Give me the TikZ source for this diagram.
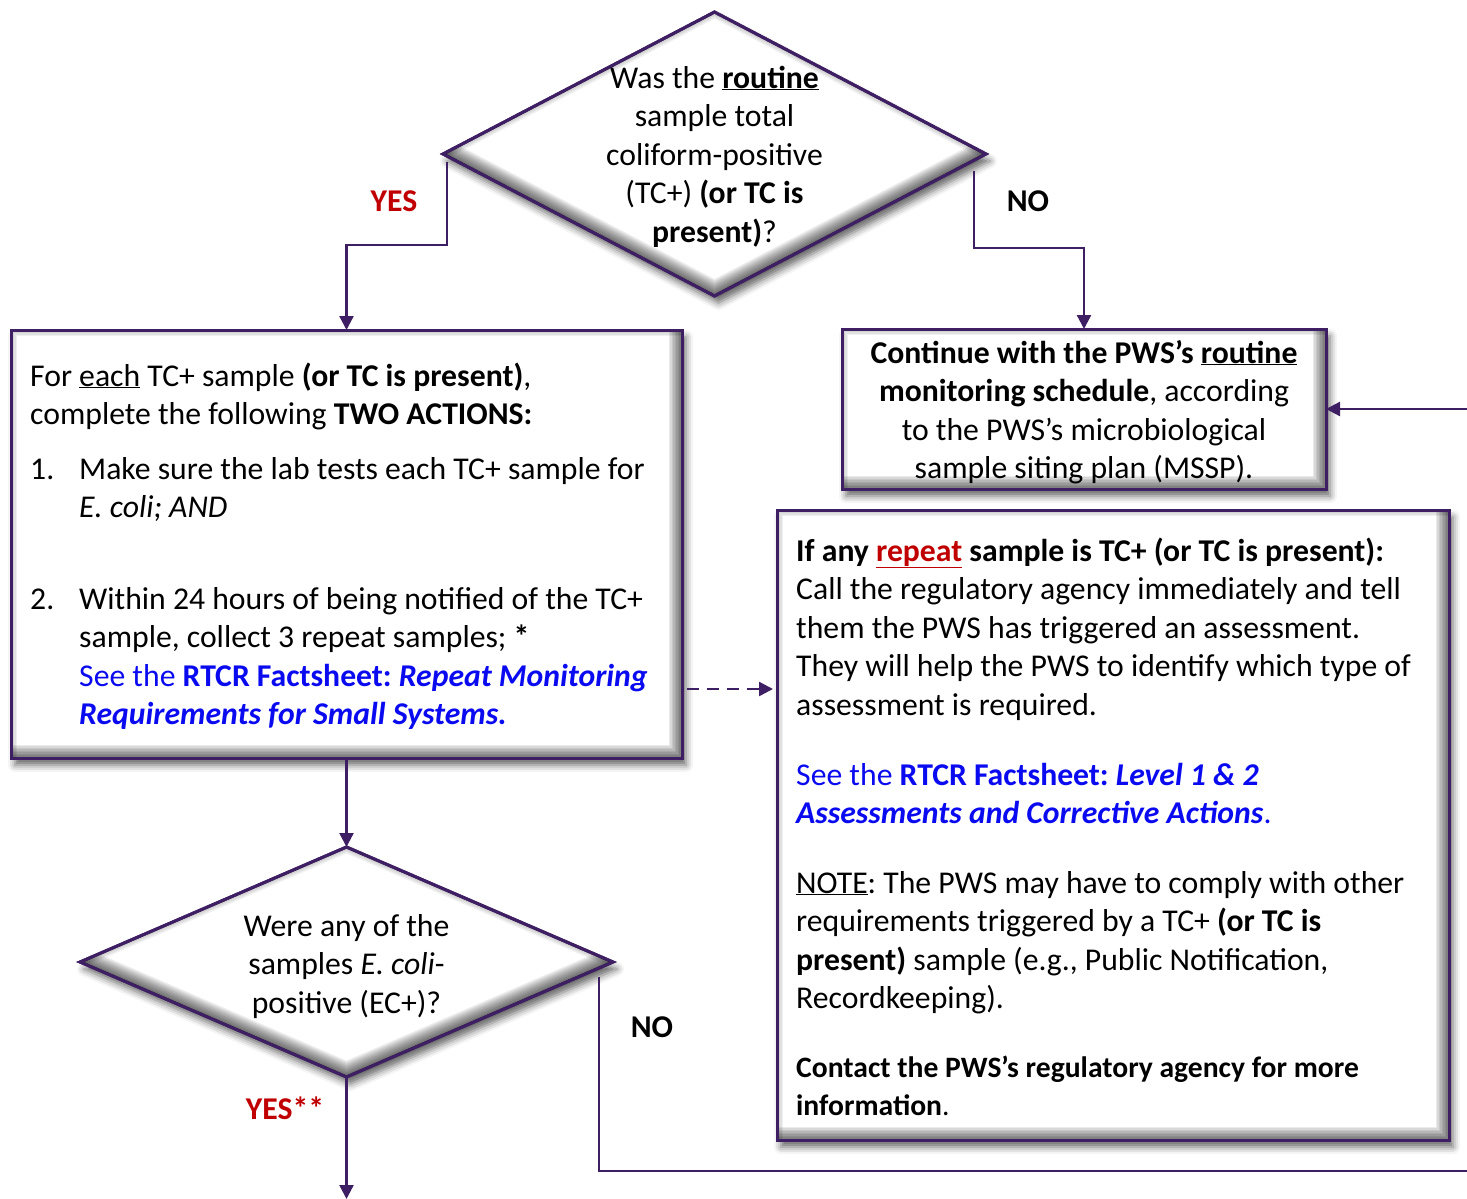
\documentclass[tikz,border=0pt]{standalone}
\usepackage{fontspec}
\setmainfont{Carlito}
\usepackage{xcolor}
\usetikzlibrary{calc,arrows.meta,shapes.geometric,shadows.blur}
\definecolor{flowpurple}{HTML}{3F1F63}
\definecolor{yesred}{HTML}{C00000}
\definecolor{linkblue}{HTML}{0A0AF0}
\frenchspacing
\tikzset{
  boxshape/.style={draw=flowpurple, line width=3pt, fill=white, rectangle,
    inner sep=0pt, outer sep=0pt,
    blur shadow={shadow xshift=4pt, shadow yshift=-7pt, shadow blur radius=7pt, shadow opacity=60}},
  decision/.style={boxshape, diamond},
  flow/.style={draw=flowpurple, line width=2.4pt, -{Triangle[length=14pt,width=14pt]}},
  link/.style={draw=flowpurple, line width=2.4pt},
  words/.style={inner sep=0pt, font=\fontsize{31.7}{38.5}\selectfont},
  smallwords/.style={inner sep=0pt, font=\fontsize{29.6}{38.3}\selectfont},
  answer/.style={inner sep=0pt, font=\fontsize{31.7}{38.5}\selectfont\bfseries}
}
% grey inner edge of the boxes
\newcommand{\bevelbox}[1]{%
  \begin{scope}
    \clip (#1.south west) rectangle (#1.north east);
    \foreach \w in {3,6,...,27}
      \draw[black, opacity=0.08, line width=\w pt] (#1.south west) -- (#1.south east) -- (#1.north east);
    \foreach \w in {3,6,...,12}
      \draw[black, opacity=0.06, line width=\w pt] (#1.south west) -- (#1.north west) -- (#1.north east);
  \end{scope}
  \draw[flowpurple, line width=3pt] (#1.south west) rectangle (#1.north east);
}
\newcommand{\beveldiamond}[1]{%
  \begin{scope}
    \clip (#1.north) -- (#1.east) -- (#1.south) -- (#1.west) -- cycle;
    \foreach \w in {3,6,...,30}
      \draw[black, opacity=0.08, line width=\w pt] (#1.west) -- (#1.south) -- (#1.east);
    \foreach \w in {3,6,...,12}
      \draw[black, opacity=0.06, line width=\w pt] (#1.west) -- (#1.north) -- (#1.east);
  \end{scope}
  \draw[flowpurple, line width=3pt] (#1.north) -- (#1.east) -- (#1.south) -- (#1.west) -- cycle;
}

\begin{document}
\begin{tikzpicture}[x=1pt, y=-1pt]
  \useasboundingbox (0,0) rectangle (1467,1199);

  % shapes
  \node[decision, minimum width=543pt, minimum height=284pt] (q1) at (714.5,154) {};
  \node[boxshape, minimum width=671pt, minimum height=428pt] (act) at (346.5,544) {};
  \node[boxshape, minimum width=484pt, minimum height=160pt] (cont) at (1084,409) {};
  \node[boxshape, minimum width=672pt, minimum height=630pt] (rep) at (1113,825) {};
  \node[decision, minimum width=533pt, minimum height=230pt] (q2) at (346.5,962) {};
  \beveldiamond{q1}
  \bevelbox{act}
  \bevelbox{cont}
  \bevelbox{rep}
  \beveldiamond{q2}

  % texts (base = last line)
  \node[words, anchor=base, align=center] (q1txt) at (714.5,242)
    {Was the \underline{\textbf{routine}}\\sample total\\coliform-positive\\(TC+) \textbf{(or TC is}\\\textbf{present)}?};

  \node[words, anchor=base west, align=left] (actintro) at (30,424.5)
    {For \underline{each} TC+ sample \textbf{(or TC is present)},\\complete the following \textbf{TWO ACTIONS:}};
  \node[words, anchor=base west] (num1) at (30,479) {1.};
  \node[words, anchor=base west, align=left] (step1) at (79,517.5)
    {Make sure the lab tests each TC+ sample for\\\textit{E. coli; AND}};
  \node[words, anchor=base west] (num2) at (30,609) {2.};
  \node[words, anchor=base west, align=left] (step2) at (79,724.5)
    {Within 24 hours of being notified of the TC+\\sample, collect 3 repeat samples; \textbf{*}\\
     \textcolor{linkblue}{See the \textbf{RTCR Factsheet: \textit{Repeat Monitoring}}}\\
     \textcolor{linkblue}{\textbf{\textit{Requirements for Small Systems.}}}};

  \node[words, anchor=base, align=center] (conttxt) at (1084,478.5)
    {\textbf{Continue with the PWS’s \underline{routine}}\\\textbf{monitoring schedule}, according\\to the PWS’s microbiological\\sample siting plan (MSSP).};

  \node[words, anchor=base west, align=left] (rep1) at (796,715)
    {\textbf{If any \textcolor{yesred}{\underline{repeat}} sample is TC+ (or TC is present):}\\
     Call the regulatory agency immediately and tell\\
     them the PWS has triggered an assessment.\\
     They will help the PWS to identify which type of\\
     assessment is required.};
  \node[words, anchor=base west, align=left] (rep2) at (796,823.5)
    {\textcolor{linkblue}{See the \textbf{RTCR Factsheet: \textit{Level 1 \& 2}}}\\
     \textcolor{linkblue}{\textbf{\textit{Assessments and Corrective Actions}}.}};
  \node[words, anchor=base west, align=left] (rep3) at (796,1008.5)
    {\underline{NOTE}: The PWS may have to comply with other\\
     requirements triggered by a TC+ \textbf{(or TC is}\\
     \textbf{present)} sample (e.g., Public Notification,\\
     Recordkeeping).};
  \node[smallwords, anchor=base west, align=left] (rep4) at (796,1115.5)
    {\textbf{Contact the PWS’s regulatory agency for more}\\\textbf{information}.};

  \node[words, anchor=base, align=center] (q2txt) at (346.5,1013)
    {Were any of the\\samples \textit{E. coli}-\\positive (EC+)?};

  % answers
  \node[answer, text=yesred] (yes1) at (394,201) {YES};
  \node[answer] (no1) at (1028,201) {NO};
  \node[answer, text=yesred] (yes2) at (285,1108) {YES**};
  \node[answer] (no2) at (652,1027) {NO};

  % connectors
  \coordinate (exitYes) at (346.5,1199);
  \coordinate (exitNo) at (1467,1171);
  \coordinate (backIn) at (1467,409);
  \coordinate (dashStart) at ($(act.east)+(5,145)$);

  \draw[flow] ($(q1.west)+(4,8)$) -- ++(0,83) -| (act.north);
  \draw[flow] ($(q1.east)+(-12,17)$) -- ++(0,77) -| (cont.north);
  \draw[flow] (act.south) -- (q2.north);
  \draw[flow] (q2.south) -- (exitYes);
  \draw[link] ($(q2.east)+(-14,15)$) |- (exitNo);
  \draw[flow] (backIn) -- (cont.east);
  \draw[flow, dash pattern=on 12pt off 8pt, shorten >=4pt] (dashStart) -- (dashStart -| rep.west);
\end{tikzpicture}
\end{document}
